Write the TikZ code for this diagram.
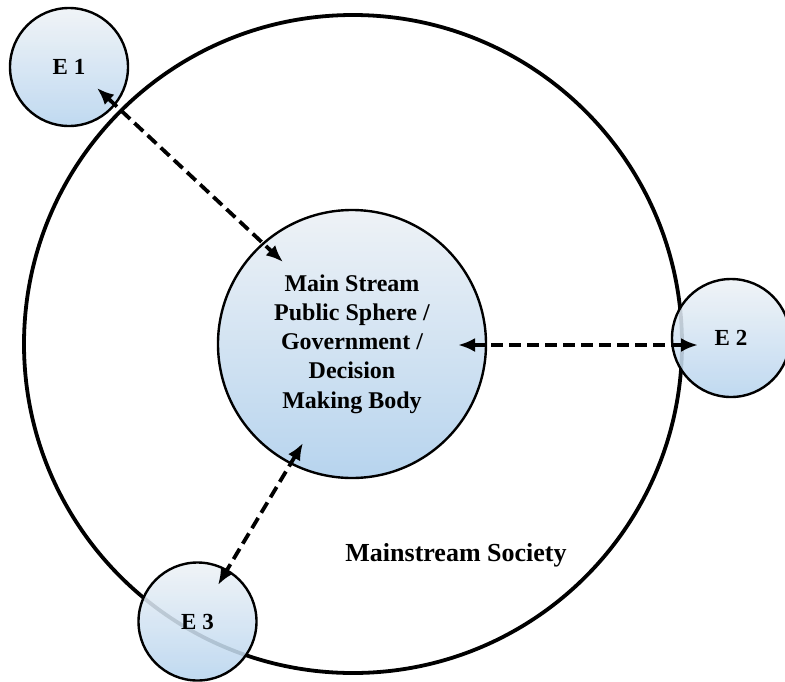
\documentclass[tikz,border=0pt]{standalone}
\usepackage{fontspec}
\setmainfont{Liberation Serif}
\usetikzlibrary{arrows.meta}
\definecolor{bubbletop}{HTML}{EEF2F6}
\definecolor{bubblemid}{HTML}{A4B9CF}
\definecolor{bubblebot}{HTML}{B7D4EE}
\tikzset{
	bubble/.style={circle, draw=black, line width=2.4pt, inner sep=0pt, top color=bubbletop, middle color=bubblemid, bottom color=bubblebot, font=\bfseries\fontsize{23}{27}\selectfont},
	outer/.style={bubble, minimum size=118pt, fill opacity=0.88, text opacity=1, draw opacity=1},
	link/.style={draw=black, line width=3.8pt, dash pattern=on 12pt off 6pt, {Latex[length=17pt,width=14pt]}-{Latex[length=17pt,width=14pt]}}
}
\begin{document}
\begin{tikzpicture}[x=1pt, y=-1pt]
	\useasboundingbox (0,0) rectangle (785,681);
	\node[circle, draw=black, line width=3.8pt, inner sep=0pt, minimum size=658pt] (society) at (353,344) {};
	\node[bubble, minimum size=268pt, align=center, font=\bfseries\fontsize{24}{29.3}\selectfont] (body) at (352,344) {Main Stream\\Public Sphere /\\Government /\\Decision\\Making Body};
	\node[font=\bfseries\fontsize{26}{30}\selectfont] (society label) at (456,555) {Mainstream Society};
	\node[outer] (e1) at (69,67) {E 1};
	\node[outer] (e2) at (731,338) {E 2};
	\node[outer] (e3) at (197.5,621.5) {E 3};
	% arrow ends
	\coordinate (e1 end) at (97,88);
	\coordinate (body nw) at (283,262);
	\coordinate (body e) at (458,345);
	\coordinate (e2 end) at (698,345);
	\coordinate (body sw) at (303,443);
	\coordinate (e3 end) at (218,585);
	\draw[link] (e1 end) -- (body nw);
	\draw[link] (body e) -- (e2 end);
	\draw[link] (body sw) -- (e3 end);
\end{tikzpicture}
\end{document}
